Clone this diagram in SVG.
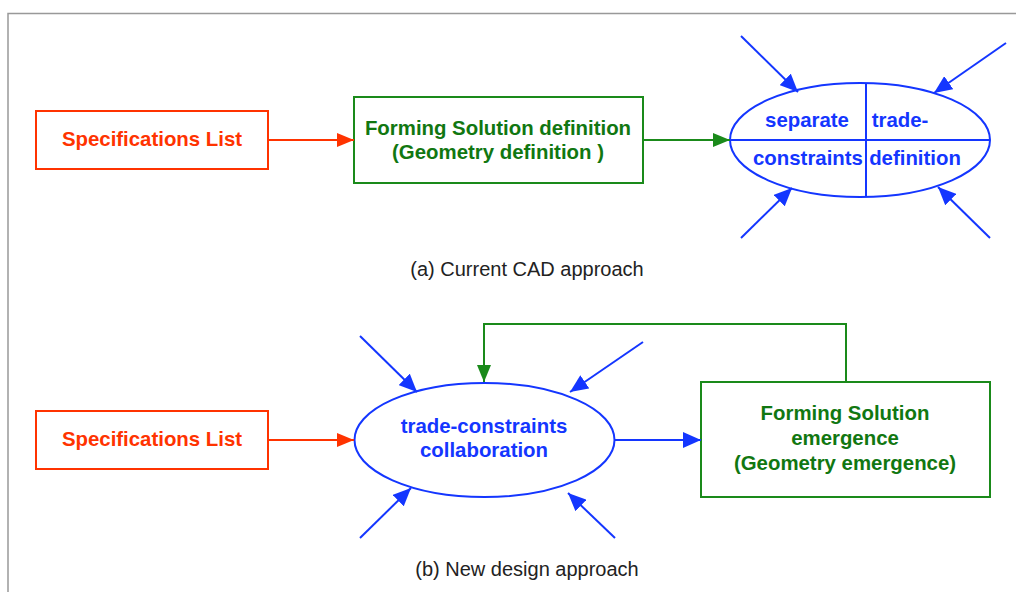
<svg xmlns="http://www.w3.org/2000/svg" width="1016" height="592" viewBox="0 0 1016 592">
<style>
text{font-family:"Liberation Sans",Arial,sans-serif;text-anchor:middle}
.b{font-weight:bold;font-size:20.4px}
.cap{font-size:20px;fill:#222}
.red{fill:#ff3300}.grn{fill:#117711}.blu{fill:#1436ff}
.rbox{fill:#fff;stroke:#ff3300;stroke-width:2}
.gbox{fill:#fff;stroke:#1a8a1a;stroke-width:2}
.ell{fill:#fff;stroke:#1436ff;stroke-width:2}
.rl{stroke:#ff3300;stroke-width:2;fill:none}
.gl{stroke:#1a8a1a;stroke-width:2;fill:none}
.bl{stroke:#1436ff;stroke-width:2;fill:none}
</style>
<defs>
<marker id="ar" markerUnits="userSpaceOnUse" markerWidth="17" markerHeight="14" refX="17" refY="7" orient="auto"><path d="M0,0 L17,7 L0,14 z" fill="#ff3300"/></marker>
<marker id="ag" markerUnits="userSpaceOnUse" markerWidth="17" markerHeight="14" refX="17" refY="7" orient="auto"><path d="M0,0 L17,7 L0,14 z" fill="#1a8a1a"/></marker>
<marker id="ab" markerUnits="userSpaceOnUse" markerWidth="18" markerHeight="16" refX="18" refY="8" orient="auto"><path d="M0,0 L18,8 L0,16 z" fill="#1436ff"/></marker>
</defs>
<rect width="1016" height="592" fill="#fff"/>
<path d="M8,600 V13.5 H1020" fill="none" stroke="#999" stroke-width="1.5"/>

<g id="spec1"><rect class="rbox" x="36" y="111" width="232" height="58"/><text class="b red" x="152" y="146">Specifications List</text></g>
<g id="forming1"><rect class="gbox" x="354" y="97" width="289" height="86"/><text class="b grn" x="498" y="135">Forming Solution definition</text><text class="b grn" x="498" y="159">(Geometry definition )</text></g>
<g id="sep"><ellipse class="ell" cx="860" cy="140" rx="130" ry="57"/><path class="bl" d="M866,83 V197 M730,140 H990"/>
<text class="b blu" x="807" y="127">separate</text><text class="b blu" x="900" y="127">trade-</text>
<text class="b blu" x="808" y="165">constraints</text><text class="b blu" x="915" y="165">definition</text></g>
<text class="cap" x="527" y="276">(a) Current CAD approach</text>

<g id="spec2"><rect class="rbox" x="36" y="411" width="232" height="58"/><text class="b red" x="152" y="446">Specifications List</text></g>
<g id="collab"><ellipse class="ell" cx="484.5" cy="440" rx="130" ry="57"/><text class="b blu" x="484" y="433">trade-constraints</text><text class="b blu" x="484" y="457">collaboration</text></g>
<g id="forming2"><rect class="gbox" x="701" y="382" width="289" height="115"/><text class="b grn" x="845" y="420">Forming Solution</text><text class="b grn" x="845" y="445">emergence</text><text class="b grn" x="845" y="470">(Geometry emergence)</text></g>
<text class="cap" x="527" y="576">(b) New design approach</text>

<g id="connectors">
<line class="rl" x1="268" y1="140" x2="354" y2="140" marker-end="url(#ar)"/>
<line class="gl" x1="643" y1="140" x2="730" y2="140" marker-end="url(#ag)"/>
<line class="bl" x1="741" y1="36" x2="798" y2="92" marker-end="url(#ab)"/>
<line class="bl" x1="1006" y1="43" x2="934" y2="93" marker-end="url(#ab)"/>
<line class="bl" x1="741" y1="238" x2="792" y2="188" marker-end="url(#ab)"/>
<line class="bl" x1="990" y1="238" x2="938" y2="187" marker-end="url(#ab)"/>
<line class="rl" x1="268" y1="440" x2="354" y2="440" marker-end="url(#ar)"/>
<line class="bl" x1="615" y1="440" x2="701" y2="440" marker-end="url(#ab)"/>
<polyline class="gl" points="846,382 846,324 484,324 484,382" marker-end="url(#ag)"/>
<line class="bl" x1="360" y1="336" x2="417" y2="392" marker-end="url(#ab)"/>
<line class="bl" x1="643" y1="342" x2="570" y2="392" marker-end="url(#ab)"/>
<line class="bl" x1="360" y1="538" x2="411" y2="488" marker-end="url(#ab)"/>
<line class="bl" x1="615" y1="538" x2="568" y2="493" marker-end="url(#ab)"/>
</g>
</svg>
